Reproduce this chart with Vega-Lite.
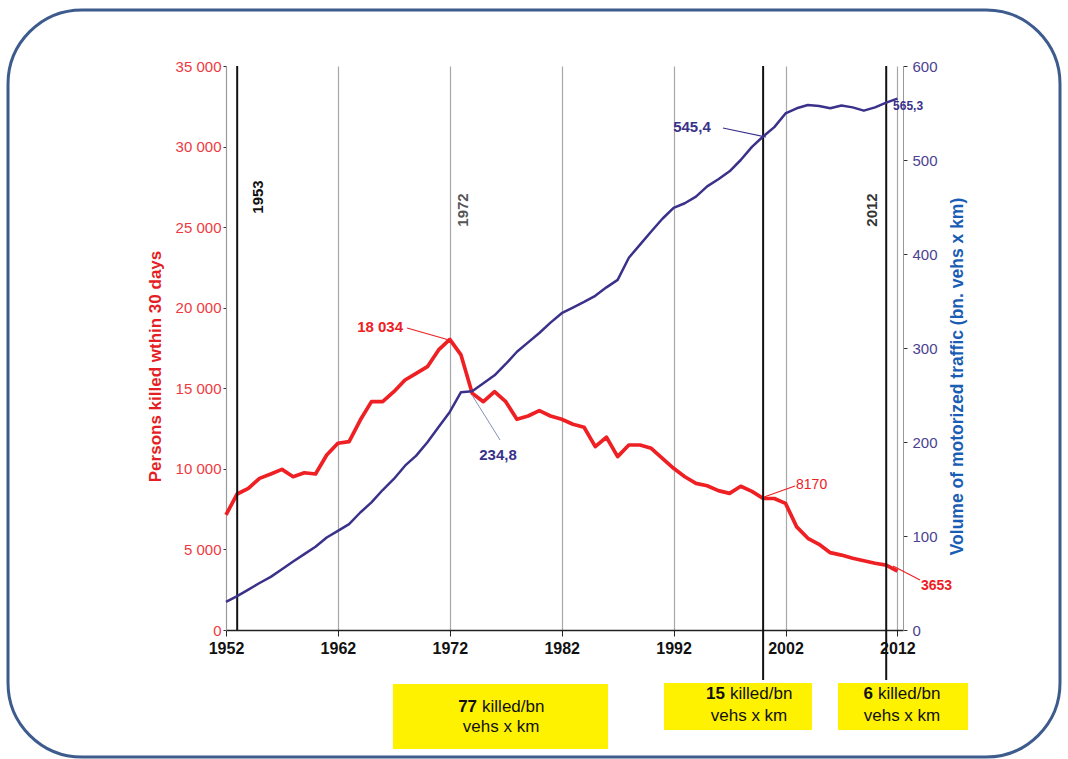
{
  "$schema": "https://vega.github.io/schema/vega-lite/v6.json",
  "width": 677,
  "height": 564,
  "autosize": {"type": "none"},
  "padding": {"left": 226, "top": 66, "right": 165, "bottom": 129},
  "background": "white",
  "config": {"font": "Liberation Sans", "view": {"stroke": null}},
  "datasets": {
    "series": [
      {"year": 1952, "killed": 7150, "traffic": 30},
      {"year": 1953, "killed": 8440, "traffic": 36},
      {"year": 1954, "killed": 8790, "traffic": 43},
      {"year": 1955, "killed": 9410, "traffic": 50},
      {"year": 1956, "killed": 9680, "traffic": 56.5},
      {"year": 1957, "killed": 9970, "traffic": 64.7},
      {"year": 1958, "killed": 9510, "traffic": 72.8},
      {"year": 1959, "killed": 9760, "traffic": 80.7},
      {"year": 1960, "killed": 9680, "traffic": 88.5},
      {"year": 1961, "killed": 10860, "traffic": 98.4},
      {"year": 1962, "killed": 11590, "traffic": 105.5},
      {"year": 1963, "killed": 11690, "traffic": 112.7},
      {"year": 1964, "killed": 13030, "traffic": 125},
      {"year": 1965, "killed": 14170, "traffic": 135.7},
      {"year": 1966, "killed": 14170, "traffic": 148.9},
      {"year": 1967, "killed": 14790, "traffic": 160.7},
      {"year": 1968, "killed": 15515, "traffic": 174.8},
      {"year": 1969, "killed": 15930, "traffic": 185.5},
      {"year": 1970, "killed": 16340, "traffic": 199.7},
      {"year": 1971, "killed": 17380, "traffic": 216},
      {"year": 1972, "killed": 18034, "traffic": 232},
      {"year": 1973, "killed": 17070, "traffic": 253},
      {"year": 1974, "killed": 14690, "traffic": 254},
      {"year": 1975, "killed": 14170, "traffic": 262.5},
      {"year": 1976, "killed": 14790, "traffic": 271},
      {"year": 1977, "killed": 14170, "traffic": 283},
      {"year": 1978, "killed": 13075, "traffic": 296},
      {"year": 1979, "killed": 13280, "traffic": 306},
      {"year": 1980, "killed": 13610, "traffic": 316},
      {"year": 1981, "killed": 13280, "traffic": 327},
      {"year": 1982, "killed": 13075, "traffic": 337},
      {"year": 1983, "killed": 12765, "traffic": 343},
      {"year": 1984, "killed": 12580, "traffic": 349},
      {"year": 1985, "killed": 11380, "traffic": 355.5},
      {"year": 1986, "killed": 11960, "traffic": 364.5},
      {"year": 1987, "killed": 10760, "traffic": 372.5},
      {"year": 1988, "killed": 11480, "traffic": 396},
      {"year": 1989, "killed": 11480, "traffic": 410},
      {"year": 1990, "killed": 11275, "traffic": 424},
      {"year": 1991, "killed": 10650, "traffic": 437.5},
      {"year": 1992, "killed": 10035, "traffic": 449},
      {"year": 1993, "killed": 9510, "traffic": 454},
      {"year": 1994, "killed": 9100, "traffic": 461},
      {"year": 1995, "killed": 8950, "traffic": 472},
      {"year": 1996, "killed": 8650, "traffic": 479.5},
      {"year": 1997, "killed": 8480, "traffic": 488},
      {"year": 1998, "killed": 8920, "traffic": 500},
      {"year": 1999, "killed": 8600, "traffic": 514},
      {"year": 2000, "killed": 8170, "traffic": 525},
      {"year": 2001, "killed": 8160, "traffic": 535},
      {"year": 2002, "killed": 7860, "traffic": 549.5},
      {"year": 2003, "killed": 6400, "traffic": 555},
      {"year": 2004, "killed": 5690, "traffic": 558.5},
      {"year": 2005, "killed": 5320, "traffic": 557.5},
      {"year": 2006, "killed": 4800, "traffic": 555},
      {"year": 2007, "killed": 4650, "traffic": 558},
      {"year": 2008, "killed": 4450, "traffic": 556},
      {"year": 2009, "killed": 4300, "traffic": 552.5},
      {"year": 2010, "killed": 4140, "traffic": 556},
      {"year": 2011, "killed": 4030, "traffic": 561},
      {"year": 2012, "killed": 3653, "traffic": 565.3}
    ],
    "marker": [
      {"label": "1953", "year": 1953},
      {"label": "2000", "year": 2000},
      {"label": "2012", "year": 2011}
    ]
  },
  "layer": [
    {
      "layer": [
        {
          "data": {"values": [{}]},
          "mark": {"type": "rect", "filled": false, "stroke": "#3d5b8c", "strokeWidth": 3, "cornerRadius": 74},
          "encoding": {
            "x": {"datum": 1932.52, "type": "quantitative"},
            "x2": {"datum": 2026.53},
            "y": {"datum": 38477, "type": "quantitative"},
            "y2": {"datum": -7882}
          }
        },
        {
          "data": {"values": [{"n": "77", "t1": "killed/bn", "t2": "vehs x km"}]},
          "layer": [
            {
              "mark": {"type": "rect", "fill": "#fff200"},
              "encoding": {
                "x": {"datum": 1966.92, "type": "quantitative"},
                "x2": {"datum": 1986.14},
                "y": {"datum": -3351, "type": "quantitative"},
                "y2": {"datum": -7385}
              }
            },
            {
              "mark": {"type": "text", "fontSize": 17, "fontWeight": "bold", "align": "right", "baseline": "middle", "dx": -24, "color": "#111"},
              "encoding": {"x": {"datum": 1976.58, "type": "quantitative"}, "y": {"datum": -4779, "type": "quantitative"}, "text": {"field": "n"}}
            },
            {
              "mark": {"type": "text", "fontSize": 17, "align": "left", "baseline": "middle", "dx": -19, "color": "#111"},
              "encoding": {"x": {"datum": 1976.58, "type": "quantitative"}, "y": {"datum": -4779, "type": "quantitative"}, "text": {"field": "t1"}}
            },
            {
              "mark": {"type": "text", "fontSize": 17, "align": "center", "baseline": "middle", "color": "#111"},
              "encoding": {"x": {"datum": 1976.58, "type": "quantitative"}, "y": {"datum": -6020, "type": "quantitative"}, "text": {"field": "t2"}}
            }
          ]
        },
        {
          "data": {"values": [{"n": "15", "t1": "killed/bn", "t2": "vehs x km"}]},
          "layer": [
            {
              "mark": {"type": "rect", "fill": "#fff200"},
              "encoding": {
                "x": {"datum": 1991.14, "type": "quantitative"},
                "x2": {"datum": 2004.37},
                "y": {"datum": -3289, "type": "quantitative"},
                "y2": {"datum": -6206}
              }
            },
            {
              "mark": {"type": "text", "fontSize": 17, "fontWeight": "bold", "align": "right", "baseline": "middle", "dx": -24, "color": "#111"},
              "encoding": {"x": {"datum": 1998.74, "type": "quantitative"}, "y": {"datum": -3972, "type": "quantitative"}, "text": {"field": "n"}}
            },
            {
              "mark": {"type": "text", "fontSize": 17, "align": "left", "baseline": "middle", "dx": -19, "color": "#111"},
              "encoding": {"x": {"datum": 1998.74, "type": "quantitative"}, "y": {"datum": -3972, "type": "quantitative"}, "text": {"field": "t1"}}
            },
            {
              "mark": {"type": "text", "fontSize": 17, "align": "center", "baseline": "middle", "color": "#111"},
              "encoding": {"x": {"datum": 1998.74, "type": "quantitative"}, "y": {"datum": -5337, "type": "quantitative"}, "text": {"field": "t2"}}
            }
          ]
        },
        {
          "data": {"values": [{"n": "6", "t1": "killed/bn", "t2": "vehs x km"}]},
          "layer": [
            {
              "mark": {"type": "rect", "fill": "#fff200"},
              "encoding": {
                "x": {"datum": 2006.69, "type": "quantitative"},
                "x2": {"datum": 2018.31},
                "y": {"datum": -3289, "type": "quantitative"},
                "y2": {"datum": -6206}
              }
            },
            {
              "mark": {"type": "text", "fontSize": 17, "fontWeight": "bold", "align": "right", "baseline": "middle", "dx": -29, "color": "#111"},
              "encoding": {"x": {"datum": 2012.41, "type": "quantitative"}, "y": {"datum": -3972, "type": "quantitative"}, "text": {"field": "n"}}
            },
            {
              "mark": {"type": "text", "fontSize": 17, "align": "left", "baseline": "middle", "dx": -24, "color": "#111"},
              "encoding": {"x": {"datum": 2012.41, "type": "quantitative"}, "y": {"datum": -3972, "type": "quantitative"}, "text": {"field": "t1"}}
            },
            {
              "mark": {"type": "text", "fontSize": 17, "align": "center", "baseline": "middle", "color": "#111"},
              "encoding": {"x": {"datum": 2012.41, "type": "quantitative"}, "y": {"datum": -5337, "type": "quantitative"}, "text": {"field": "t2"}}
            }
          ]
        },
        {
          "data": {"name": "series"},
          "mark": {"type": "line", "color": "#ee2024", "strokeWidth": 3.7, "strokeJoin": "round"},
          "encoding": {
            "x": {
              "field": "year",
              "type": "quantitative",
              "scale": {"domain": [1952, 2012.5], "nice": false, "zero": false},
              "axis": {
                "values": [1952, 1962, 1972, 1982, 1992, 2002, 2012],
                "format": "d",
                "title": null,
                "grid": true,
                "gridColor": "#a8a8a8",
                "gridWidth": 1.2,
                "domainColor": "#222",
                "domainWidth": 1.5,
                "tickColor": "#222",
                "tickSize": 6,
                "labelFlush": false,
                "labelFontWeight": "bold",
                "labelFontSize": 16,
                "labelColor": "#111",
                "labelPadding": 4
              }
            },
            "y": {
              "field": "killed",
              "type": "quantitative",
              "scale": {"domain": [0, 35000], "nice": false},
              "axis": {
                "values": [0, 5000, 10000, 15000, 20000, 25000, 30000, 35000],
                "labelExpr": "replace(format(datum.value, ','), ',', ' ')",
                "labelColor": "#ee3a3f",
                "labelFontSize": 15,
                "labelPadding": 2,
                "tickSize": 3,
                "tickColor": "#333",
                "domainColor": "#999",
                "grid": false,
                "title": "Persons killed wthin 30 days",
                "titleColor": "#e41e26",
                "titleFontSize": 17,
                "titleFontWeight": "bold",
                "titleAngle": 270,
                "titleBaseline": "middle",
                "titleAlign": "center",
                "titleX": -71,
                "titleY": 300
              }
            }
          }
        },
        {
          "data": {"name": "marker"},
          "transform": [{"filter": "datum.label == '1953'"}],
          "mark": {"type": "rule", "color": "#111", "strokeWidth": 2},
          "encoding": {
            "x": {"field": "year", "type": "quantitative"},
            "y": {"datum": 35000, "type": "quantitative"},
            "y2": {"datum": 0}
          }
        },
        {
          "data": {"name": "marker"},
          "transform": [{"filter": "datum.label != '1953'"}],
          "mark": {"type": "rule", "color": "#111", "strokeWidth": 2},
          "encoding": {
            "x": {"field": "year", "type": "quantitative"},
            "y": {"datum": 35000, "type": "quantitative"},
            "y2": {"datum": -3100}
          }
        },
        {
          "data": {"values": [{"t": "1953"}]},
          "mark": {"type": "text", "angle": 270, "fontSize": 15, "fontWeight": "bold", "color": "#111", "align": "center", "baseline": "middle"},
          "encoding": {"x": {"datum": 1954.86, "type": "quantitative"}, "y": {"datum": 26872, "type": "quantitative"}, "text": {"field": "t"}}
        },
        {
          "data": {"values": [{"t": "1972"}]},
          "mark": {"type": "text", "angle": 270, "fontSize": 15, "fontWeight": "bold", "color": "#555", "align": "center", "baseline": "middle"},
          "encoding": {"x": {"datum": 1973.18, "type": "quantitative"}, "y": {"datum": 26065, "type": "quantitative"}, "text": {"field": "t"}}
        },
        {
          "data": {"values": [{"t": "2012"}]},
          "mark": {"type": "text", "angle": 270, "fontSize": 15, "fontWeight": "bold", "color": "#333", "align": "center", "baseline": "middle"},
          "encoding": {"x": {"datum": 2009.7, "type": "quantitative"}, "y": {"datum": 26065, "type": "quantitative"}, "text": {"field": "t"}}
        },
        {
          "data": {"values": [{}]},
          "mark": {"type": "rule", "color": "#ee2024", "strokeWidth": 1.2},
          "encoding": {"x": {"datum": 1968.18, "type": "quantitative"}, "y": {"datum": 18742, "type": "quantitative"}, "x2": {"datum": 1971.93}, "y2": {"datum": 17997}}
        },
        {
          "data": {"values": [{"t": "18 034"}]},
          "mark": {"type": "text", "fontSize": 15, "fontWeight": "bold", "color": "#ee2024", "align": "right", "baseline": "middle"},
          "encoding": {"x": {"datum": 1967.82, "type": "quantitative"}, "y": {"datum": 18804, "type": "quantitative"}, "text": {"field": "t"}}
        },
        {
          "data": {"values": [{}]},
          "mark": {"type": "rule", "color": "#8a90b8", "strokeWidth": 1},
          "encoding": {"x": {"datum": 1973.98, "type": "quantitative"}, "y": {"datum": 14584, "type": "quantitative"}, "x2": {"datum": 1976.49}, "y2": {"datum": 11791}}
        },
        {
          "data": {"values": [{"t": "234,8"}]},
          "mark": {"type": "text", "fontSize": 15, "fontWeight": "bold", "color": "#3a318a", "align": "center", "baseline": "middle"},
          "encoding": {"x": {"datum": 1976.31, "type": "quantitative"}, "y": {"datum": 10861, "type": "quantitative"}, "text": {"field": "t"}}
        },
        {
          "data": {"values": [{}]},
          "mark": {"type": "rule", "color": "#3a318a", "strokeWidth": 1.2},
          "encoding": {"x": {"datum": 1996.41, "type": "quantitative"}, "y": {"datum": 31154, "type": "quantitative"}, "x2": {"datum": 2000.26}, "y2": {"datum": 30596}}
        },
        {
          "data": {"values": [{"t": "545,4"}]},
          "mark": {"type": "text", "fontSize": 15, "fontWeight": "bold", "color": "#3a318a", "align": "center", "baseline": "middle"},
          "encoding": {"x": {"datum": 1993.64, "type": "quantitative"}, "y": {"datum": 31216, "type": "quantitative"}, "text": {"field": "t"}}
        },
        {
          "data": {"values": [{"t": "565,3"}]},
          "mark": {"type": "text", "fontSize": 12, "fontWeight": "bold", "color": "#3a318a", "align": "left", "baseline": "middle"},
          "encoding": {"x": {"datum": 2011.61, "type": "quantitative"}, "y": {"datum": 32519, "type": "quantitative"}, "text": {"field": "t"}}
        },
        {
          "data": {"values": [{}]},
          "mark": {"type": "rule", "color": "#ee2024", "strokeWidth": 1.2},
          "encoding": {"x": {"datum": 2000.08, "type": "quantitative"}, "y": {"datum": 8254, "type": "quantitative"}, "x2": {"datum": 2002.85}, "y2": {"datum": 8937}}
        },
        {
          "data": {"values": [{"t": "8170"}]},
          "mark": {"type": "text", "fontSize": 14, "color": "#ee2024", "align": "left", "baseline": "middle"},
          "encoding": {"x": {"datum": 2002.94, "type": "quantitative"}, "y": {"datum": 8999, "type": "quantitative"}, "text": {"field": "t"}}
        },
        {
          "data": {"values": [{}]},
          "mark": {"type": "rule", "color": "#ee2024", "strokeWidth": 1.2},
          "encoding": {"x": {"datum": 2011.61, "type": "quantitative"}, "y": {"datum": 3972, "type": "quantitative"}, "x2": {"datum": 2014.02}, "y2": {"datum": 3103}}
        },
        {
          "data": {"values": [{"t": "3653"}]},
          "mark": {"type": "text", "fontSize": 14, "fontWeight": "bold", "color": "#ee2024", "align": "left", "baseline": "middle"},
          "encoding": {"x": {"datum": 2014.11, "type": "quantitative"}, "y": {"datum": 2731, "type": "quantitative"}, "text": {"field": "t"}}
        }
      ]
    },
    {
      "data": {"name": "series"},
      "mark": {"type": "line", "color": "#3a318a", "strokeWidth": 2.5, "strokeJoin": "round"},
      "encoding": {
        "x": {"field": "year", "type": "quantitative"},
        "y": {
          "field": "traffic",
          "type": "quantitative",
          "scale": {"domain": [0, 600], "nice": false},
          "axis": {
            "orient": "right",
            "values": [0, 100, 200, 300, 400, 500, 600],
            "labelColor": "#4b3f91",
            "labelFontSize": 15,
            "labelPadding": 5,
            "tickSize": 4,
            "tickColor": "#333",
            "domainColor": "#999",
            "grid": false,
            "title": "Volume of motorized traffic (bn. vehs x km)",
            "titleColor": "#1a5db5",
            "titleFontSize": 17.5,
            "titleFontWeight": "bold",
            "titleAngle": 270,
            "titleBaseline": "middle",
            "titleAlign": "center",
            "titleX": 54,
            "titleY": 310
          }
        }
      }
    }
  ],
  "resolve": {"scale": {"y": "independent"}}
}
